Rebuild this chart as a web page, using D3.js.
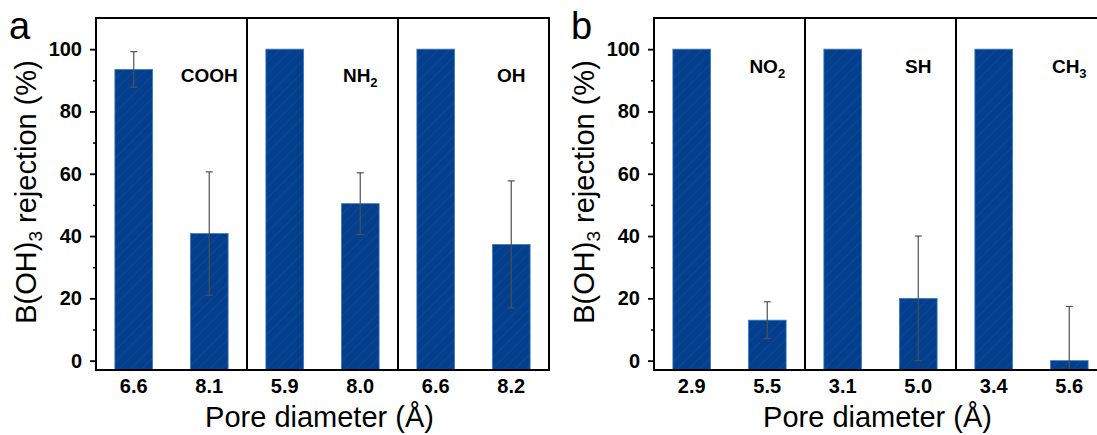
<!DOCTYPE html>
<html>
<head>
<meta charset="utf-8">
<script src="https://cdn.jsdelivr.net/npm/d3@7"></script>
<style>
  body { margin: 0; background: #fff; }
  svg { display: block; font-family: "Liberation Sans", Arial, sans-serif; }
</style>
</head>
<body>
<div id="chart"></div>
<script>
// data
var poreLabelsA = ["6.6", "8.1", "5.9", "8.0", "6.6", "8.2"];
var rejectionA = [93.5, 40.8, 100, 50.4, 100, 37.3];
var errorA = [5.7, 19.8, 0, 9.9, 0, 20.4];
var groupsA = [["COOH", ""], ["NH", "2"], ["OH", ""]];

var poreLabelsB = ["2.9", "5.5", "3.1", "5.0", "3.4", "5.6"];
var rejectionB = [100, 13.0, 100, 20.0, 100, 0];
var errorB = [0, 5.9, 0, 20.0, 0, 17.4];
var groupsB = [["NO", "2"], ["SH", ""], ["CH", "3"]];

var yTicks = [0, 20, 40, 60, 80, 100];
var yMinorTicks = [10, 30, 50, 70, 90];

var svgWidth = 1097, svgHeight = 435;

var svg = d3.select("#chart").append("svg")
    .attr("width", svgWidth)
    .attr("height", svgHeight);

// hatch pattern for the bars
var defs = svg.append("defs");
var pat = defs.append("pattern")
    .attr("id", "hatch")
    .attr("patternUnits", "userSpaceOnUse")
    .attr("width", 8).attr("height", 8)
    .attr("patternTransform", "rotate(45)");
pat.append("rect").attr("width", 8).attr("height", 8).attr("fill", "#033f8c");
pat.append("line").attr("x1", 0).attr("y1", 0).attr("x2", 0).attr("y2", 8)
    .attr("stroke", "#164b94").attr("stroke-width", 1.2);

function drawPanel(opt) {
    var width = 453, height = 352;
    var g = svg.append("g").attr("transform", `translate(${opt.left}, 18)`);

    var x = d3.scaleBand()
        .domain(d3.range(opt.labels.length))
        .range([0, width])
        .paddingInner(0.5)
        .paddingOuter(0.25);

    var y = d3.scaleLinear().domain([-3, 110]).range([height, 0]);

    defs.append("clipPath").attr("id", "clip" + opt.name)
        .append("rect").attr("width", width).attr("height", height);

    // bars from axis bottom
    g.selectAll(".bar")
        .data(opt.values)
        .enter()
        .append("rect")
        .attr("x", (d, i) => x(i))
        .attr("y", d => y(d))
        .attr("width", x.bandwidth())
        .attr("height", d => height - y(d))
        .attr("fill", "url(#hatch)")
        .attr("stroke", "#3d7cc4")
        .attr("stroke-width", 0.8);

    // error bars
    var eb = g.append("g").attr("clip-path", `url(#clip${opt.name})`)
        .selectAll("g")
        .data(opt.values.map((v, i) => ({ v: v, e: opt.errors[i], i: i })).filter(d => d.e > 0))
        .enter().append("g")
        .attr("stroke", "#505050")
        .attr("stroke-width", 1.2);
    eb.append("line")
        .attr("x1", d => x(d.i) + x.bandwidth() / 2)
        .attr("x2", d => x(d.i) + x.bandwidth() / 2)
        .attr("y1", d => y(d.v + d.e))
        .attr("y2", d => y(d.v - d.e));
    eb.append("line")
        .attr("x1", d => x(d.i) + x.bandwidth() / 2 - 3.5)
        .attr("x2", d => x(d.i) + x.bandwidth() / 2 + 3.5)
        .attr("y1", d => y(d.v + d.e))
        .attr("y2", d => y(d.v + d.e));
    eb.append("line")
        .attr("x1", d => x(d.i) + x.bandwidth() / 2 - 3.5)
        .attr("x2", d => x(d.i) + x.bandwidth() / 2 + 3.5)
        .attr("y1", d => y(d.v - d.e))
        .attr("y2", d => y(d.v - d.e));

    // group labels over the second bar of each pair
    opt.groups.forEach(function(lab, k) {
        var t = g.append("text")
            .attr("x", x(2 * k + 1) + x.bandwidth() / 2)
            .attr("y", opt.labelY)
            .attr("text-anchor", "middle")
            .attr("font-weight", "bold")
            .attr("font-size", "19px")
            .text(lab[0]);
        if (lab[1]) {
            t.append("tspan").attr("font-size", "13px").attr("dy", 5).text(lab[1]);
        }
    });

    // y axis
    var leftAxis = d3.axisLeft(y).tickValues(yTicks).tickSize(6).tickPadding(8);
    var ya = g.append("g").call(leftAxis);
    ya.select(".domain").remove();
    ya.selectAll("line").attr("stroke-width", 1.8);
    ya.selectAll("text")
        .attr("font-size", "20px")
        .attr("font-weight", "bold")
        .attr("font-family", "Liberation Sans, Arial, sans-serif")
        .attr("fill", "#000");
    g.append("g").call(d3.axisLeft(y).tickValues(yMinorTicks).tickSize(3).tickFormat(""))
        .call(a => a.select(".domain").remove())
        .selectAll("line").attr("stroke-width", 1.5);

    // x labels
    var bottomAxis = d3.axisBottom(x).tickSize(0).tickPadding(9).tickFormat(i => opt.labels[i]);
    var xa = g.append("g").attr("transform", `translate(0, ${height})`).call(bottomAxis);
    xa.select(".domain").remove();
    xa.selectAll("text")
        .attr("font-size", "20px")
        .attr("font-weight", "bold")
        .attr("font-family", "Liberation Sans, Arial, sans-serif")
        .attr("fill", "#000");

    // frame and dividers
    [2, 4].forEach(function(i) {
        var xd = (x(i - 1) + x.bandwidth() + x(i)) / 2;
        g.append("line").attr("x1", xd).attr("x2", xd).attr("y1", 0).attr("y2", height)
            .attr("stroke", "#000").attr("stroke-width", 2);
    });
    g.append("rect").attr("width", width).attr("height", height)
        .attr("fill", "none").attr("stroke", "#000").attr("stroke-width", 2);

    // axis titles
    var yt = g.append("text")
        .attr("transform", `translate(${opt.yTitleX - opt.left}, ${height / 2 - 2}) rotate(-90)`)
        .attr("text-anchor", "middle")
        .attr("font-size", "29px")
        .text("B(OH)");
    yt.append("tspan").attr("font-size", "19px").attr("dy", 6).text("3");
    yt.append("tspan").attr("dy", -6).text(" rejection (%)");

    g.append("text")
        .attr("x", width / 2 - 3)
        .attr("y", 409)
        .attr("text-anchor", "middle")
        .attr("font-size", "29px")
        .text("Pore diameter (Å)");

    svg.append("text")
        .attr("x", opt.letterX)
        .attr("y", 39)
        .attr("font-size", "38px")
        .text(opt.name);
}

drawPanel({ name: "a", left: 96, labels: poreLabelsA, values: rejectionA, errors: errorA,
    groups: groupsA, labelY: 64, yTitleX: 36, letterX: 9 });
drawPanel({ name: "b", left: 654, labels: poreLabelsB, values: rejectionB, errors: errorB,
    groups: groupsB, labelY: 55, yTitleX: 594, letterX: 571 });
</script>
</body>
</html>
